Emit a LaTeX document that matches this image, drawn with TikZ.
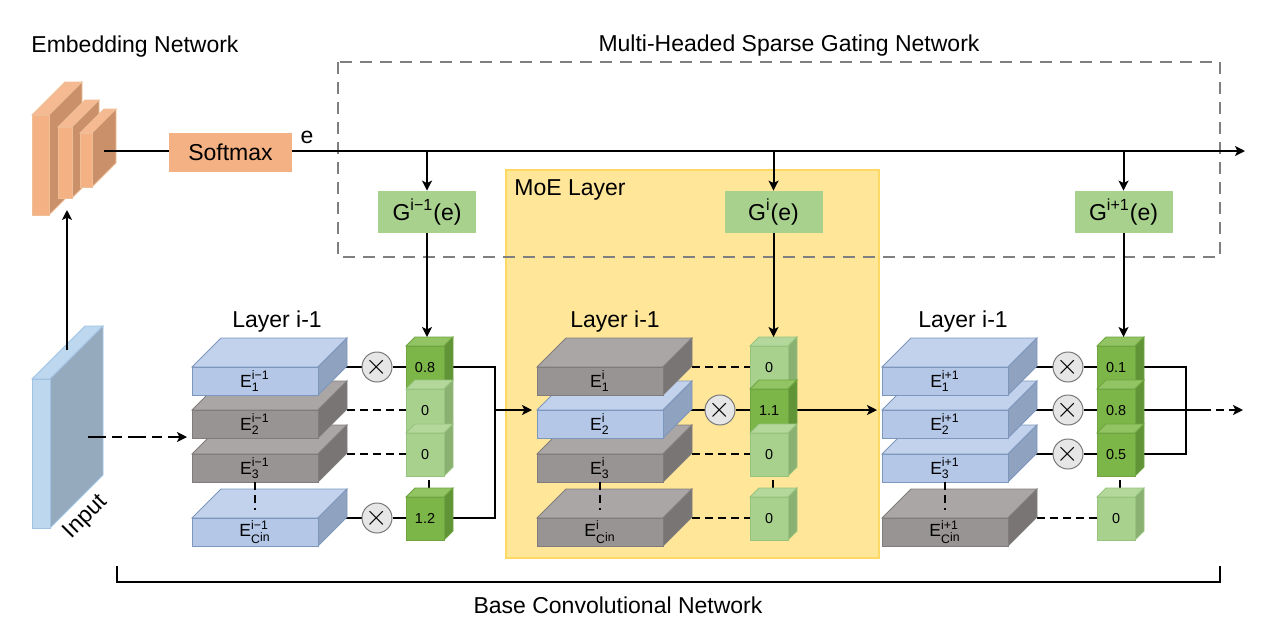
\documentclass[tikz,border=0pt]{standalone}
\usepackage{fontspec}
\setmainfont{Liberation Sans}
\usepackage{amsmath}
\usetikzlibrary{calc,arrows.meta}
\definecolor{embfront}{RGB}{244,177,131}
\definecolor{embtop}{RGB}{246,186,146}
\definecolor{embside}{RGB}{201,144,106}
\definecolor{embedge}{RGB}{240,190,150}
\definecolor{inputfront}{RGB}{189,215,238}
\definecolor{inputside}{RGB}{150,170,190}
\definecolor{inputedge}{RGB}{160,195,228}
\definecolor{bluefront}{RGB}{180,199,231}
\definecolor{bluetop}{RGB}{194,210,236}
\definecolor{blueside}{RGB}{143,162,192}
\definecolor{blueedge}{RGB}{125,150,188}
\definecolor{grayfront}{RGB}{152,148,147}
\definecolor{graytop}{RGB}{170,166,165}
\definecolor{grayside}{RGB}{121,117,116}
\definecolor{grayedge}{RGB}{128,124,123}
\definecolor{palefront}{RGB}{169,209,142}
\definecolor{paletop}{RGB}{180,216,156}
\definecolor{paleside}{RGB}{138,176,114}
\definecolor{paleedge}{RGB}{150,195,125}
\definecolor{deepfront}{RGB}{124,181,72}
\definecolor{deeptop}{RGB}{146,196,100}
\definecolor{deepside}{RGB}{96,148,54}
\definecolor{deepedge}{RGB}{110,165,65}
\definecolor{gatefill}{RGB}{169,209,142}
\definecolor{moefill}{RGB}{255,230,153}
\definecolor{moeedge}{RGB}{255,217,102}
\definecolor{multfill}{RGB}{231,230,230}
\definecolor{multedge}{RGB}{120,120,120}
\definecolor{boxgray}{RGB}{127,127,127}

\pgfdeclarelayer{back}
\pgfdeclarelayer{wires}
\pgfsetlayers{back,wires,main}

\tikzset{
  lbl/.style={font=\fontsize{11.5}{13}\selectfont, inner sep=0pt},
  gatebox/.style={fill=gatefill, minimum width=49pt, minimum height=21pt, inner sep=0pt,
    font=\fontsize{11.5}{13}\selectfont},
  slabface/.style={minimum width=63pt, minimum height=14pt, inner sep=0pt, line width=0.4pt,
    font=\fontsize{8.8}{10}\selectfont},
  cellface/.style={minimum width=19pt, minimum height=21.5pt, inner sep=0pt, line width=0.4pt,
    font=\fontsize{7.2}{8}\selectfont},
  mult/.style={circle, fill=multfill, draw=multedge, line width=0.5pt, minimum size=15pt,
    inner sep=0pt, font=\fontsize{14}{14}\selectfont},
  wire/.style={line width=1pt},
  dwire/.style={line width=1pt, dash pattern=on 4pt off 2.5pt},
  arr/.style={-{Stealth[length=5pt,width=5pt,inset=1.2pt]}},
}

% one expert: 3d slab, front top-left corner at (#2,#3)
\newcommand{\expertslab}[5]{%
  \filldraw[fill=#4top, draw=#4edge, line width=0.4pt] (#2,#3) -- ++(29,-29) -- ++(126,0) -- ++(-29,29) -- cycle;
  \filldraw[fill=#4side, draw=#4edge, line width=0.4pt] (#2+126,#3) -- ++(29,-29) -- ++(0,28) -- ++(-29,29) -- cycle;
  \node[slabface, fill=#4front, draw=#4edge] (#1) at (#2+63,#3+14) {#5};
  \coordinate (#1-c) at (#2+77,#3);
  \coordinate (#1-in) at (#2-5,#3);
}
% one gate value: small cube, row centre #3
\newcommand{\gatecell}[5]{%
  \filldraw[fill=#4top, draw=#4edge, line width=0.4pt] (#2,#3-21) -- ++(9,-9) -- ++(38,0) -- ++(-9,9) -- cycle;
  \filldraw[fill=#4side, draw=#4edge, line width=0.4pt] (#2+38,#3-21) -- ++(9,-9) -- ++(0,43) -- ++(-9,9) -- cycle;
  \node[cellface, fill=#4front, draw=#4edge] (#1) at (#2+19,#3+0.5) {#5};
  \coordinate (#1-c) at (#2+23,#3);
  \coordinate (#1-top) at (#2+23.5,#3-30);
}
\newcommand{\elab}[2]{$\text{E}^{\text{#1}}_{\text{#2}}$}
\newcommand{\cin}{C\raisebox{0.35ex}{in}}

\begin{document}
\begin{tikzpicture}[x=0.5pt, y=-0.5pt]
\useasboundingbox (0,0) rectangle (1274,634);

% Background boxes
\begin{pgfonlayer}{back}
\filldraw[fill=moefill, draw=moeedge, line width=0.6pt] (506,170) rectangle (879,558);
\draw[boxgray, line width=1pt, dash pattern=on 6pt off 4pt] (338,62) rectangle (1220,257);
\end{pgfonlayer}

% Titles
\node[lbl] (embtitle) at (135,47) {Embedding Network};
\node[lbl] (gatetitle) at (789,46) {Multi-Headed Sparse Gating Network};
\node[lbl, anchor=west] (moetitle) at (514,190) {MoE Layer};
\node[lbl] (basetitle) at (618,605) {Base Convolutional Network};

% Embedding network
\foreach \x/\y/\w/\h/\d in {32/115/17/100/33, 58/127/14/71/27, 80/133/12/54/24} {
  \filldraw[fill=embtop, draw=embedge, line width=0.4pt] (\x,\y) -- ++(\d,-\d) -- ++(\w,0) -- ++(-\d,\d) -- cycle;
  \filldraw[fill=embside, draw=embedge, line width=0.4pt] (\x+\w,\y) -- ++(\d,-\d) -- ++(0,\h) -- ++(-\d,\d) -- cycle;
  \filldraw[fill=embfront, draw=embedge, line width=0.4pt] (\x,\y) rectangle ++(\w,\h);
}
\coordinate (embout) at (104,151);
\coordinate (embin) at (67,210);
\node[lbl, fill=embfront, minimum width=61.5pt, minimum height=19.5pt] (softmax) at (230.5,152.5) {Softmax};
\node[lbl] (elabel) at (307,137) {e};
\coordinate (topend) at (1245,151);

% Input
\filldraw[fill=inputfront, draw=inputedge, line width=0.4pt] (32,379) -- ++(53,-53) -- ++(18,0) -- ++(-53,53) -- cycle;
\filldraw[fill=inputside, draw=inputedge, line width=0.4pt] (50,379) -- ++(53,-53) -- ++(0,149) -- ++(-53,53) -- cycle;
\filldraw[fill=inputfront, draw=inputedge, line width=0.4pt] (32,379) rectangle (50,528);
\node[lbl, rotate=45] (inlabel) at (86,517) {Input};
\coordinate (inup) at (67,350);
\coordinate (inright) at (88,437);

% Gating heads
\node[gatebox] (gl) at (427,212) {$\text{G}^{\text{i−1}}\text{(e)}$};
\node[gatebox] (gm) at (773.5,212) {$\text{G}^{\text{i}}\text{(e)}$};
\node[gatebox] (gr) at (1123.5,212) {$\text{G}^{\text{i+1}}\text{(e)}$};

% Layer i-1 (left)
\node[lbl] (llabel) at (277,322) {Layer i-1};
\expertslab{ln}{192}{518}{blue}{\elab{i−1}{\cin}}
\foreach \n/\y/\c in {3/454/gray, 2/410/gray, 1/367/blue} {
  \expertslab{l\n}{192}{\y}{\c}{\elab{i−1}{\n}}
}
\foreach \n/\y/\c/\v in {1/367/deep/0.8, 2/410/pale/0, 3/454/pale/0} {
  \gatecell{lg\n}{406}{\y}{\c}{\v}
}
\gatecell{lgn}{406}{518}{deep}{1.2}
\node[mult] (lx1) at (377,367) {$\times$};
\node[mult] (lxn) at (377,518) {$\times$};
\coordinate (lbus) at (495,410);

% MoE layer (middle)
\node[lbl] (mlabel) at (615,322) {Layer i-1};
\expertslab{mn}{537}{518}{gray}{\elab{i}{\cin}}
\foreach \n/\y/\c in {3/454/gray, 2/410/blue, 1/367/gray} {
  \expertslab{m\n}{537}{\y}{\c}{\elab{i}{\n}}
}
\foreach \n/\y/\c/\v in {1/367/pale/0, 2/410/deep/1.1, 3/454/pale/0} {
  \gatecell{mg\n}{750}{\y}{\c}{\v}
}
\gatecell{mgn}{750}{518}{pale}{0}
\node[mult] (mx2) at (720,410) {$\times$};

% Layer i+1 (right)
\node[lbl] (rlabel) at (963,322) {Layer i-1};
\expertslab{rn}{882}{518}{gray}{\elab{i+1}{\cin}}
\foreach \n/\y in {3/454, 2/410, 1/367} {
  \expertslab{r\n}{882}{\y}{blue}{\elab{i+1}{\n}}
}
\foreach \n/\y/\v in {1/367/0.1, 2/410/0.8, 3/454/0.5} {
  \gatecell{rg\n}{1097}{\y}{deep}{\v}
  \node[mult] (rx\n) at (1068,\y) {$\times$};
}
\gatecell{rgn}{1097}{518}{pale}{0}
\coordinate (rbus) at (1186,410);
\coordinate (rout) at (1203,410);
\coordinate (outend) at (1243,410);

% Connections behind the shapes
\begin{pgfonlayer}{wires}
\draw[wire] (l1-c) -- (lx1) -- (lg1-c);
\draw[wire] (ln-c) -- (lxn) -- (lgn-c);
\draw[dwire] (l2-c) -- (lg2-c);
\draw[dwire] (l3-c) -- (lg3-c);
\draw[dwire] (lg3-c) -- (lgn-c);
\draw[wire] (lg1-c) -| (lbus);
\draw[wire] (lgn-c) -| (lbus);

\draw[wire] (m2-c) -- (mx2) -- (mg2-c);
\draw[dwire] (m1-c) -- (mg1-c);
\draw[dwire] (m3-c) -- (mg3-c);
\draw[dwire] (mn-c) -- (mgn-c);
\draw[dwire] (mg3-c) -- (mgn-c);
\draw[wire, arr] (mg2-c) -- (r2-in);

\foreach \n in {1,2,3} {
  \draw[wire] (r\n-c) -- (rx\n) -- (rg\n-c);
}
\draw[dwire] (rn-c) -- (rgn-c);
\draw[dwire] (rg3-c) -- (rgn-c);
\draw[wire] (rg1-c) -| (rbus);
\draw[wire] (rg3-c) -| (rbus);
\draw[wire] (rg2-c) -- (rout);
\end{pgfonlayer}

% Connections on top
\draw[wire] (embout) -- (embout -| softmax.west);
\draw[wire, arr] (softmax.east |- topend) -- (topend);
\foreach \g/\c in {gl/lg1, gm/mg1, gr/rg1} {
  \draw[wire, arr] (\g.north |- topend) -- (\g);
  \draw[wire, arr] (\g) -- (\g.south |- \c-top);
}
\draw[wire, arr] (inup) -- (embin);
\draw[wire, arr, dash pattern=on 9pt off 3pt on 5pt off 3pt] (inright) -- (l2-in |- inright);
\draw[wire, arr] (lbus) -- (m2-in);
\draw[dwire, arr] (rout) -- (outend);
\draw[dwire] (l3.south) -- ($(ln.north)+(0,-8)$);
\draw[dwire] (m3.south) -- ($(mn.north)+(0,-8)$);
\draw[dwire] (r3.south) -- ($(rn.north)+(0,-8)$);

% Base network bracket
\draw[line width=1pt] (117,566) -- (117,582) -- (1220,582) -- (1220,566);
\end{tikzpicture}
\end{document}
